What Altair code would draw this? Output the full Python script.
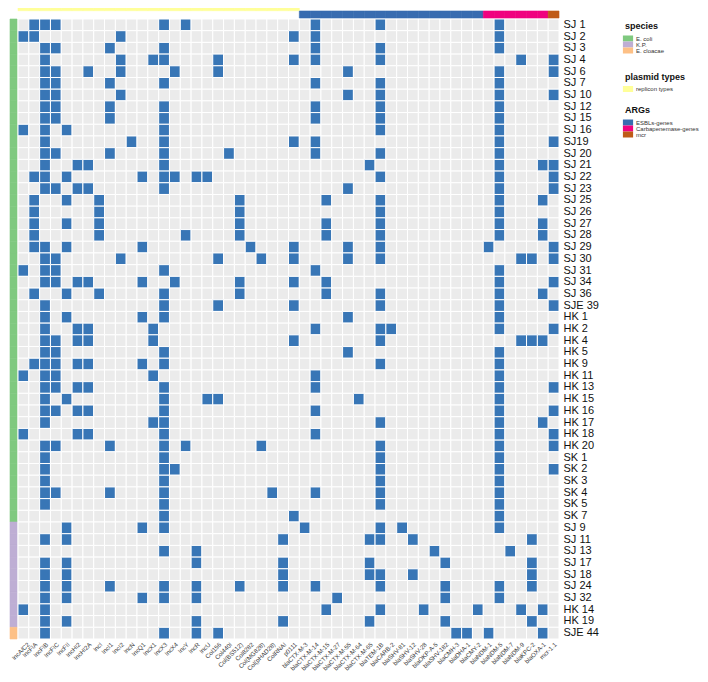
import altair as alt
import pandas as pd

# ---------------- data ----------------
columns = ["IncA/C2", "IncFIA", "IncFIB", "IncFIC", "IncFII", "IncHI2", "IncHI2A", "IncI",
           "IncI1", "IncI2", "IncN", "IncQ1", "IncX1", "IncX3", "IncX4", "IncY", "IncR", "IncU",
           "Col156", "Col440I", "Col(BS512)", "Col8282", "Col(MG828)", "Col(pHAD28)", "ColRNAI",
           "p0111",
           "blaCTX-M-3", "blaCTX-M-14", "blaCTX-M-15", "blaCTX-M-27", "blaCTX-M-55", "blaCTX-M-64",
           "blaCTX-M-65", "blaTEM-1B", "blaCARB-2", "blaSHV-81", "blaSHV-12", "blaSHV-28",
           "blaOKP-A-5", "blaSHV-182", "blaCMH-3", "blaDHA-1", "blaCMY-2",
           "blaNDM-1", "blaNDM-5", "blaNDM-7", "blaNDM-9", "blaKPC-2", "blaOXA-1",
           "mcr-1.1"]

# column groups (name, number of consecutive columns)
plasmid_groups = [("replicon types", 26)]
arg_groups = [("ESBLs-genes", 17), ("Carbapenemase-genes", 6), ("mcr", 1)]

rows = ["SJ 1", "SJ 2", "SJ 3", "SJ 4", "SJ 6", "SJ 7", "SJ 10", "SJ 12", "SJ 15", "SJ 16",
        "SJ19", "SJ 20", "SJ 21", "SJ 22", "SJ 23", "SJ 25", "SJ 26", "SJ 27", "SJ 28", "SJ 29",
        "SJ 30", "SJ 31", "SJ 34", "SJ 36", "SJE 39", "HK 1", "HK 2", "HK 4", "HK 5", "HK 9",
        "HK 11", "HK 13", "HK 15", "HK 16", "HK 17", "HK 18", "HK 20", "SK 1", "SK 2", "SK 3",
        "SK 4", "SK 5", "SK 7",
        "SJ 9", "SJ 11", "SJ 13", "SJ 17", "SJ 18", "SJ 24", "SJ 32", "HK 14", "HK 19",
        "SJE 44"]

species_groups = [("E. coli", 43), ("K.P.", 9), ("E. cloacae", 1)]

# indices of present genes / replicons per isolate (row order as above)
hits = [
    [1, 2, 3, 13, 15, 27, 33, 44],
    [0, 1, 9, 25, 27, 44],
    [2, 3, 8, 13, 27, 33, 44],
    [2, 9, 12, 13, 18, 25, 27, 33, 46, 49],
    [2, 3, 6, 9, 14, 18, 30, 44, 49],
    [2, 3, 8, 13, 27, 33, 44],
    [2, 3, 9, 30, 33, 44, 49],
    [2, 3, 8, 13, 27, 33, 44],
    [2, 3, 8, 13, 27, 33, 44],
    [0, 2, 4, 13, 33, 44],
    [2, 10, 13, 25, 27, 44, 49],
    [2, 3, 8, 13, 19, 27, 33, 44],
    [2, 5, 6, 13, 32, 44, 48, 49],
    [1, 2, 4, 11, 13, 14, 16, 17, 33, 44, 49],
    [2, 3, 5, 6, 13, 30, 44, 49],
    [1, 4, 7, 20, 28, 33, 44, 48],
    [1, 7, 20, 33, 44],
    [1, 4, 7, 20, 28, 33, 44, 48],
    [1, 7, 15, 20, 28, 33, 44, 48],
    [1, 2, 4, 11, 21, 25, 30, 33, 43, 49],
    [2, 3, 9, 18, 22, 25, 30, 33, 46, 47, 49],
    [0, 2, 3, 13, 27, 44],
    [2, 3, 5, 6, 11, 14, 20, 25, 28, 44, 49],
    [1, 4, 7, 13, 20, 28, 33, 44, 48],
    [2, 13, 18, 25, 33, 44, 49],
    [2, 4, 11, 13, 30, 44],
    [2, 5, 6, 12, 27, 33, 34, 44, 49],
    [2, 3, 5, 6, 12, 25, 33, 46, 47, 48],
    [2, 3, 13, 30, 44],
    [1, 2, 3, 5, 6, 11, 13, 33, 44],
    [0, 2, 3, 12, 27, 44],
    [2, 3, 5, 6, 13, 27, 44, 49],
    [2, 4, 13, 17, 18, 31, 44],
    [2, 3, 5, 6, 13, 27, 44, 49],
    [2, 12, 13, 33, 44, 48],
    [0, 5, 6, 13, 27, 44, 49],
    [2, 3, 8, 13, 15, 22, 33, 44, 49],
    [2, 13, 33, 44],
    [2, 13, 14, 33, 44, 49],
    [2, 13, 33, 44],
    [2, 3, 8, 13, 23, 27, 33, 44],
    [2, 13, 33, 44],
    [13, 25, 44],
    [4, 11, 13, 26, 33, 35, 44],
    [2, 4, 24, 32, 33, 36, 47],
    [13, 16, 38, 45],
    [2, 4, 16, 24, 32, 39, 47],
    [2, 4, 24, 32, 33, 36, 47],
    [2, 4, 8, 13, 16, 20, 24, 27, 33, 39, 44, 47],
    [2, 4, 11, 13, 16, 29, 39, 44],
    [0, 2, 28, 33, 37, 42, 46, 48],
    [2, 4, 16, 24, 32, 39, 47],
    [2, 13, 16, 18, 40, 41, 43, 48],
]

species_colors = ["#7FC97F", "#BEAED4", "#FDC086"]
plasmid_colors = ["#FFFF99"]
arg_colors = ["#386CB0", "#F0027F", "#BF5B17"]
cell_colors = ["#EBEBEB", "#3876B6"]

# ---------------- tables ----------------
cells = pd.DataFrame(
    [{"isolate": r, "gene": c, "status": "present" if j in hits[i] else "absent"}
     for i, r in enumerate(rows) for j, c in enumerate(columns)]
)

sp_rows = []
k = 0
for name, n in species_groups:
    for _ in range(n):
        sp_rows.append({"isolate": rows[k], "species": name, "track": "species"})
        k += 1
species_df = pd.DataFrame(sp_rows)

plas_rows, arg_rows = [], []
k = 0
for name, n in plasmid_groups:
    for _ in range(n):
        plas_rows.append({"gene": columns[k], "type": name, "track": "plasmid types"})
        k += 1
for name, n in arg_groups:
    for _ in range(n):
        arg_rows.append({"gene": columns[k], "type": name, "track": "ARGs"})
        k += 1
plas_df = pd.DataFrame(plas_rows)
arg_df = pd.DataFrame(arg_rows)

# ---------------- chart ----------------
FONT = "Liberation Sans"
W, H = 541, 620
SYM = "M-1.7,-1H1.7V1H-1.7Z"

col_scale = alt.Scale(domain=columns, paddingInner=0, paddingOuter=0)
row_scale = alt.Scale(domain=rows, paddingInner=0, paddingOuter=0)


def legend(title, y):
    return alt.Legend(
        title=title, orient="none", legendX=607, legendY=y,
        titleFont=FONT, titleFontSize=9, titleFontWeight="bold", titleColor="#111",
        titlePadding=4.5, labelFont=FONT, labelFontSize=6, labelColor="#333",
        symbolType=SYM, symbolSize=36, symbolStrokeWidth=0, symbolOpacity=1,
        rowPadding=0, labelOffset=5, padding=0,
    )


heat = alt.Chart(cells).mark_rect(stroke="white", strokeWidth=1).encode(
    x=alt.X("gene:N", sort=columns, scale=col_scale, title=None,
            axis=alt.Axis(labelAngle=-45, ticks=False, domain=False, labelPadding=2,
                          labelFont=FONT, labelFontSize=6.2, labelColor="#3a3a3a",
                          labelOverlap=False, labelLimit=200,
                          labelOffset={"condition": {"test": "datum.value === 'IncA/C2'",
                                                     "value": 3}, "value": 0})),
    y=alt.Y("isolate:N", sort=rows, scale=row_scale, title=None,
            axis=alt.Axis(orient="right", ticks=False, domain=False, labelPadding=4,
                          labelFont=FONT, labelFontSize=11, labelColor="#111",
                          labelOverlap=False)),
    color=alt.Color("status:N", scale=alt.Scale(domain=["absent", "present"], range=cell_colors),
                    legend=None),
)

species_layer = alt.Chart(species_df).mark_rect(strokeWidth=0.6).encode(
    x=alt.X("track:N", scale=alt.Scale(domain=["species"], range=[-8, -1]), axis=None),
    y=alt.Y("isolate:N", sort=rows, scale=row_scale, axis=None),
    color=alt.Color("species:N", scale=alt.Scale(domain=[s for s, _ in species_groups],
                                                 range=species_colors),
                    legend=legend("species", 3)),
    stroke=alt.Stroke("species:N", scale=alt.Scale(domain=[s for s, _ in species_groups],
                                                   range=species_colors), legend=None),
)

plas_layer = alt.Chart(plas_df).mark_rect(strokeWidth=0.6).encode(
    x=alt.X("gene:N", sort=columns, scale=col_scale, axis=None),
    y=alt.Y("track:N", scale=alt.Scale(domain=["plasmid types"], range=[-16, -8.3]), axis=None),
    color=alt.Color("type:N", scale=alt.Scale(domain=[g for g, _ in plasmid_groups],
                                              range=plasmid_colors),
                    legend=legend("plasmid types", 53.5)),
    stroke=alt.Stroke("type:N", scale=alt.Scale(domain=[g for g, _ in plasmid_groups],
                                                range=plasmid_colors), legend=None),
)

arg_layer = alt.Chart(arg_df).mark_rect(strokeWidth=0.6).encode(
    x=alt.X("gene:N", sort=columns, scale=col_scale, axis=None),
    y=alt.Y("track:N", scale=alt.Scale(domain=["ARGs"], range=[-8, -1]), axis=None),
    color=alt.Color("type:N", scale=alt.Scale(domain=[g for g, _ in arg_groups],
                                              range=arg_colors),
                    legend=legend("ARGs", 87)),
    stroke=alt.Stroke("type:N", scale=alt.Scale(domain=[g for g, _ in arg_groups],
                                                range=arg_colors), legend=None),
)

chart = alt.layer(heat, species_layer, plas_layer, arg_layer).resolve_scale(
    x="independent", y="independent", color="independent", stroke="independent"
).properties(
    width=W, height=H,
    autosize=alt.AutoSizeParams(type="none"),
    padding={"left": 10, "top": 11, "right": 141, "bottom": 34},
    background="white",
).configure_view(stroke=None)

chart.save("out.html", embed_options={"renderer": "svg", "actions": False})
